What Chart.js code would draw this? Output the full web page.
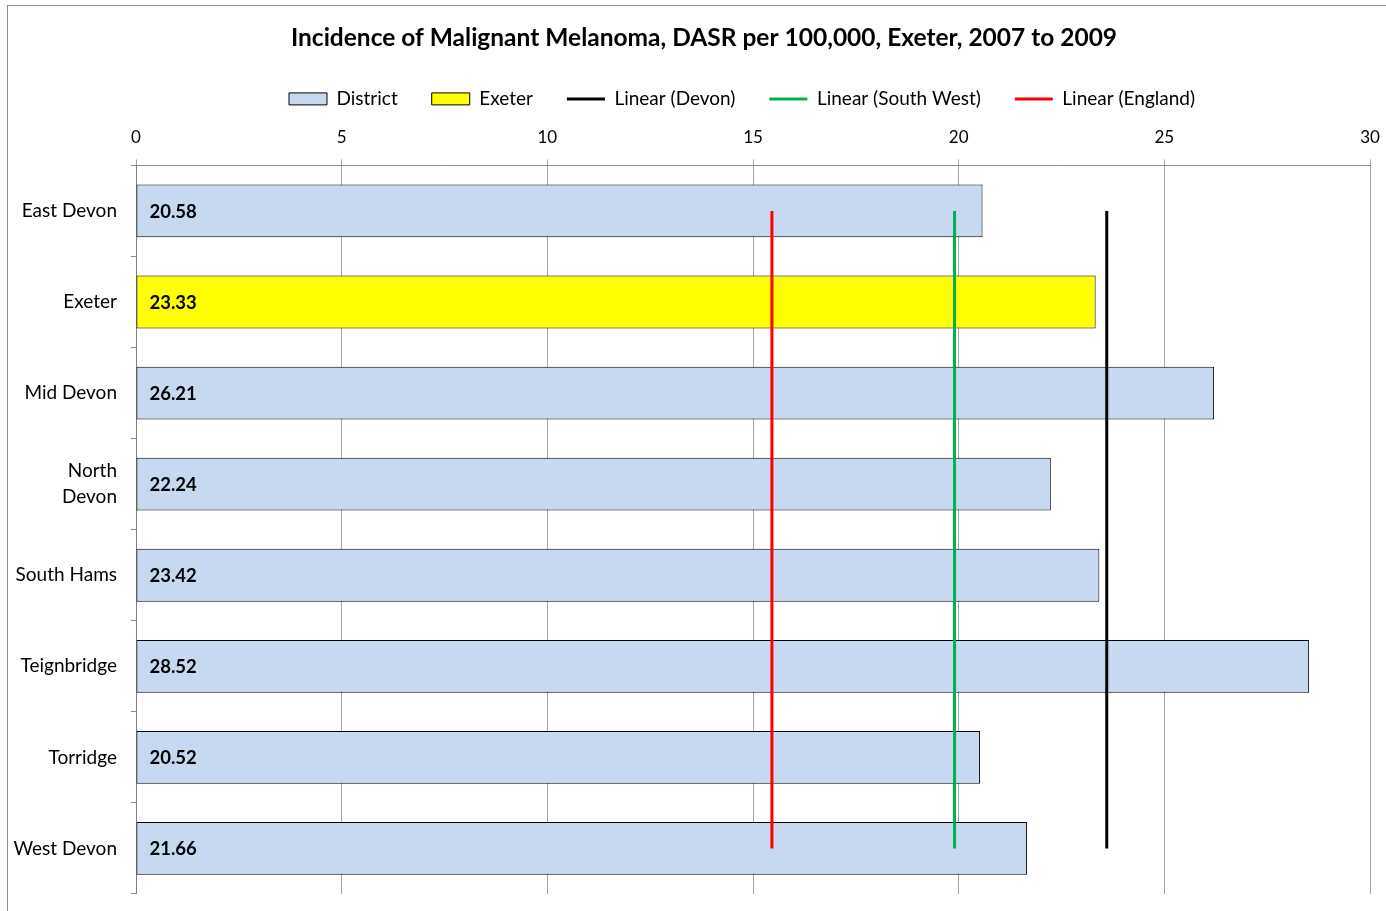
<!DOCTYPE html>
<html>
<head>
<meta charset="utf-8">
<script src="https://cdn.jsdelivr.net/npm/chart.js@4.4.1/dist/chart.umd.min.js"></script>
<style>
  html, body { margin: 0; padding: 0; background: #fff; overflow: hidden; }
  #frame { position: absolute; left: 7px; top: 5px; width: 1400px; height: 920px; border: 1px solid #8c8c8c; background: #fff; }
  #wrap { position: absolute; left: 0; top: 0; width: 1400px; height: 915px; }
</style>
</head>
<body>
<div id="frame"><div id="wrap"><canvas id="c"></canvas></div></div>
<script>
const TITLE = 'Incidence of Malignant Melanoma, DASR per 100,000, Exeter, 2007 to 2009';
const categories = ['East Devon', 'Exeter', 'Mid Devon', ['North', 'Devon'], 'South Hams', 'Teignbridge', 'Torridge', 'West Devon'];
const districtValues = [20.58, null, 26.21, 22.24, 23.42, 28.52, 20.52, 21.66];
const exeterValues = [null, 23.33, null, null, null, null, null, null];
const devonRate = 23.6;
const southWestRate = 19.9;
const englandRate = 15.46;
const xTicks = [0, 5, 10, 15, 20, 25, 30];
const lineSpan = ['East Devon', 'West Devon'];

const FONT = 'Lato, "Open Sans", sans-serif';

function refLine(v) {
  return lineSpan.map(c => ({ x: v, y: c }));
}

const valueLabels = {
  id: 'valueLabels',
  afterDatasetsDraw(chart) {
    const ctx = chart.ctx;
    ctx.save();
    ctx.font = 'bold 18.5px ' + FONT;
    ctx.fillStyle = '#000';
    ctx.textBaseline = 'middle';
    ctx.textAlign = 'left';
    chart.data.datasets.forEach((ds, i) => {
      if (ds.type === 'line') return;
      const meta = chart.getDatasetMeta(i);
      meta.data.forEach((el, j) => {
        const v = ds.data[j];
        if (v === null || v === undefined) return;
        ctx.fillText(v.toFixed(2), el.base + 13, el.y + 1);
      });
    });
    ctx.restore();
  }
};

const headerShift = {
  id: 'headerShift',
  afterLayout(chart) {
    if (chart.legend) {
      chart.legend.left += 53;
      chart.legend.right += 53;
    }
    if (chart.titleBlock) {
      chart.titleBlock.left += 15;
      chart.titleBlock.right += 15;
    }
  }
};

new Chart(document.getElementById('c'), {
  type: 'bar',
  data: {
    labels: categories,
    datasets: [
      { label: 'District', data: districtValues, backgroundColor: '#C6D9F1', borderColor: '#000', borderWidth: 1, borderSkipped: false, order: 2 },
      { label: 'Exeter', data: exeterValues, backgroundColor: '#FFFF00', borderColor: '#000', borderWidth: 1, borderSkipped: false, order: 2 },
      { type: 'line', label: 'Linear (Devon)', data: refLine(devonRate), borderColor: '#000000', backgroundColor: '#000000', borderWidth: 3, pointRadius: 0, order: 1 },
      { type: 'line', label: 'Linear (South West)', data: refLine(southWestRate), borderColor: '#00B050', backgroundColor: '#00B050', borderWidth: 3, pointRadius: 0, order: 1 },
      { type: 'line', label: 'Linear (England)', data: refLine(englandRate), borderColor: '#FF0000', backgroundColor: '#FF0000', borderWidth: 3, pointRadius: 0, order: 1 }
    ]
  },
  options: {
    indexAxis: 'y',
    responsive: true,
    maintainAspectRatio: false,
    animation: false,
    datasets: { bar: { grouped: false, barPercentage: 0.58, categoryPercentage: 1 } },
    layout: { padding: { left: 0, right: 38, top: 0, bottom: 0 } },
    plugins: {
      tooltip: { enabled: false },
      title: {
        display: true, text: TITLE, color: '#000',
        font: { family: FONT, size: 24.5, weight: 'bold' },
        padding: { top: 17, bottom: 3 }
      },
      legend: {
        display: true,
        labels: {
          color: '#000',
          font: { family: FONT, size: 19 },
          usePointStyle: true,
          pointStyleWidth: 38,
          boxHeight: 12,
          padding: 34,
          generateLabels(chart) {
            return chart.data.datasets.map((ds, i) => ({
              text: ds.label,
              fillStyle: ds.backgroundColor,
              strokeStyle: ds.type === 'line' ? ds.borderColor : '#000',
              lineWidth: ds.type === 'line' ? 3 : 1,
              pointStyle: ds.type === 'line' ? 'line' : 'rect',
              datasetIndex: i,
              hidden: false,
              fontColor: '#000'
            }));
          }
        }
      }
    },
    scales: {
      x: {
        position: 'top',
        min: 0, max: 30,
        afterBuildTicks(scale) { scale.ticks = xTicks.map(v => ({ value: v })); },
        afterFit(scale) { scale.height = 47; },
        ticks: { color: '#000', font: { family: FONT, size: 17 }, padding: 12 },
        grid: { color: '#a6a6a6', lineWidth: 1, tickLength: 6, drawTicks: true },
        border: { color: '#8c8c8c', width: 1 }
      },
      y: {
        type: 'category',
        afterFit(scale) { scale.width = 128; },
        ticks: { color: '#000', font: { family: FONT, size: 19, lineHeight: 1.37 }, padding: 14, autoSkip: false },
        grid: { drawOnChartArea: false, drawTicks: true, tickLength: 5, color: '#8c8c8c', offset: true },
        border: { color: '#7f7f7f', width: 1 }
      }
    }
  },
  plugins: [valueLabels, headerShift]
});
</script>
</body>
</html>
